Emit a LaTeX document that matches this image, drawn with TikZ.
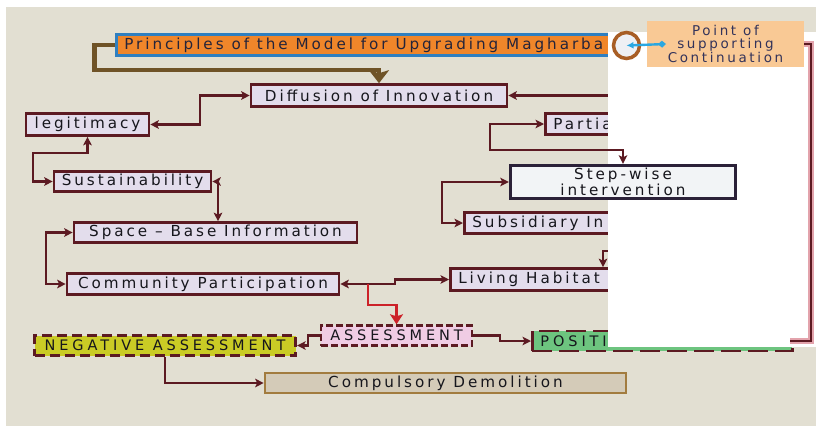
\documentclass[tikz,border=0pt]{standalone}
\usepackage{fontspec}
\newfontfamily\dv{DejaVu Sans}[LetterSpace=19.5]
\newfontfamily\dvcap{DejaVu Sans}[LetterSpace=27]
\usetikzlibrary{arrows.meta,calc}
\definecolor{bgc}{HTML}{E2DFD2}
\definecolor{lav}{HTML}{E3DDEC}
\definecolor{mr}{HTML}{5C1A22}
\definecolor{txt}{HTML}{16161C}
\definecolor{orng}{HTML}{F0862A}
\definecolor{blu}{HTML}{2E7FC1}
\definecolor{ttxt}{HTML}{24243A}
\definecolor{negc}{HTML}{CACB25}
\definecolor{posc}{HTML}{6DC47F}
\definecolor{assc}{HTML}{F0CCE4}
\definecolor{demc}{HTML}{D4CBB8}
\definecolor{demb}{HTML}{A27C3F}
\definecolor{ptc}{HTML}{F9C995}
\definecolor{pttxt}{HTML}{33335A}
\definecolor{stf}{HTML}{F2F4F6}
\definecolor{stb}{HTML}{2B2138}
\definecolor{brn}{HTML}{6F5327}
\definecolor{redc}{HTML}{CC2229}
\definecolor{circc}{HTML}{A85E25}
\definecolor{circf}{HTML}{EEF0F4}
\definecolor{bluearr}{HTML}{2AA7E1}
\definecolor{glowc}{HTML}{E3A3AC}
\begin{document}
\begin{tikzpicture}[x=1pt,y=-1pt,
  mainfont/.style={font=\dv\fontsize{15.2pt}{15.5pt}\selectfont},
  capfont/.style={font=\dvcap\fontsize{14.5pt}{16pt}\selectfont},
  box/.style={draw=mr, line width=2.6pt, fill=lav, text=txt, mainfont, inner sep=0pt, minimum height=21pt},
  lbox/.style={box, anchor=west, inner xsep=8pt},
  dbox/.style={draw=mr, line width=2.8pt, dash pattern=on 8pt off 4pt, text=txt, capfont, inner sep=0pt, minimum height=20pt},
  conn/.style={draw=mr, line width=2.5pt, >={Stealth[length=8.5pt,width=8.5pt,inset=2pt]}},
  brownc/.style={draw=brn, line width=4.5pt},
  redarr/.style={draw=redc, line width=2.8pt, >={Stealth[length=10pt,width=13pt,inset=2pt]}},
]
\useasboundingbox (0,0) rectangle (816,426);
\fill[white] (0,0) rectangle (816,426);
\fill[bgc] (6,7) rectangle (816,426);

% nodes partly covered by the white panel
\node[lbox, fill=orng, draw=blu, text=ttxt, minimum height=21pt] (title) at (115,45) {\makebox[500pt][l]{Principles of the Model for Upgrading Magharba}};
\node[lbox, minimum height=21pt] (partial) at (544,124) {\makebox[80pt][l]{Partia}};
\node[lbox, minimum height=21pt] (subs) at (463,223) {\makebox[150pt][l]{Subsidiary In}};
\node[lbox, minimum height=22pt] (living) at (449,279.5) {\makebox[170pt][l]{Living Habitat I}};
\node[dbox, anchor=west, fill=posc, inner xsep=8pt, dash pattern=on 20pt off 7pt, minimum height=20pt] (pos) at (531,341) {\makebox[244pt][l]{POSITI}};

% fully visible nodes
\node[box, minimum width=256pt, minimum height=22pt] (diff) at (379,95.5) {Diffusion of Innovation};
\node[box, minimum width=123pt, minimum height=22pt] (legit) at (87.5,124.5) {legitimacy};
\node[box, minimum width=157pt, minimum height=20pt] (sust) at (132.5,181.5) {Sustainability};
\node[box, minimum width=283pt, minimum height=20pt] (space) at (215.5,232.5) {Space – Base Information};
\node[box, minimum width=272pt, minimum height=21pt] (comm) at (203,284) {Community Participation};
\node[dbox, fill=assc, minimum width=151pt, dash pattern=on 7pt off 3pt, line width=2.4pt] (assess) at (396.5,335.5) {ASSESSMENT};
\node[dbox, fill=negc, minimum width=261pt, dash pattern=on 10pt off 5pt, line width=3.2pt] (neg) at (165,345.5) {NEGATIVE ASSESSMENT};
\node[box, fill=demc, draw=demb, minimum width=361pt, minimum height=20pt] (demo) at (445.5,383) {Compulsory Demolition};

% connectors running under the white panel
\coordinate (h1) at (620,95.5);
\draw[conn,->] (h1) -- (diff.east);
\coordinate (h2) at (620,251);
\coordinate (h3) at (603,251);
\draw[conn,->] (h2) -- (h3) -- (h3 |- living.north);

% white panel
\fill[white] (608,32) rectangle (816,347);

% nodes over the white panel
\node[box, fill=stf, draw=stb, line width=3.4pt, minimum width=225pt, minimum height=33pt, align=center] (step) at (623,182) {Step-wise\\intervention};
\node[fill=ptc, text=pttxt, minimum width=157pt, minimum height=46pt, inner sep=0pt, align=center, font=\dv\fontsize{13.5pt}{13pt}\selectfont] (point) at (725.5,44) {Point of\\supporting\\Continuation};
\node[circle, draw=circc, line width=3.5pt, fill=circf, minimum size=26pt, inner sep=0pt] (ring) at (626.5,45.5) {};
\coordinate (bl) at (666,44);
\draw[draw=bluearr, line width=2.4pt, {Latex[length=7pt,width=7pt]}-{Diamond[length=8pt,width=7pt]}] (ring.center) -- (bl);

% right glow line
\coordinate (rEnd) at (790,341);
\draw[draw=glowc, line width=5.5pt, line join=miter] (point.east) -- (811,44) -- (811,341) -- (rEnd);
\draw[draw=mr, line width=2.5pt, line join=miter] (point.east) -- (811,44) -- (811,341) -- (rEnd);

% connectors
\draw[brownc, -{Stealth[length=13pt,width=20pt,inset=3pt]}] (title.west) -- (94.5,45) -- (94.5,70) -| (diff.north);
\draw[conn,<->] (legit.east) -- (200,124.5) |- (diff.west);
\draw[conn,<->] (partial.west) -- (490,124) -- (490,150) -| (step.north);
\draw[conn,<->] (step.west) -- (442,182) |- (subs.west);
\draw[conn,<->] (legit.south) -- (87.5,153) -- (33,153) |- (sust.west);
\coordinate (sb) at (218,181.5);
\draw[conn,<->] (sust.east) -- (sb) -- (sb |- space.north);
\draw[conn,<->] (space.west) -- (46,232.5) |- (comm.west);
\draw[conn,<->] (comm.east) -- (395,284) -- (395,279.5) -- (living.west);
\coordinate (rs) at (368,284);
\draw[redarr,->] (rs) -- (368,305) -| (assess.north);
\draw[conn,->] (assess.west) -- (308,335.5) |- (neg.east);
\draw[conn,->] (assess.east) -- (500,335.5) |- (pos.west);
\draw[conn,->] (neg.south) |- (demo.west);
\end{tikzpicture}
\end{document}
